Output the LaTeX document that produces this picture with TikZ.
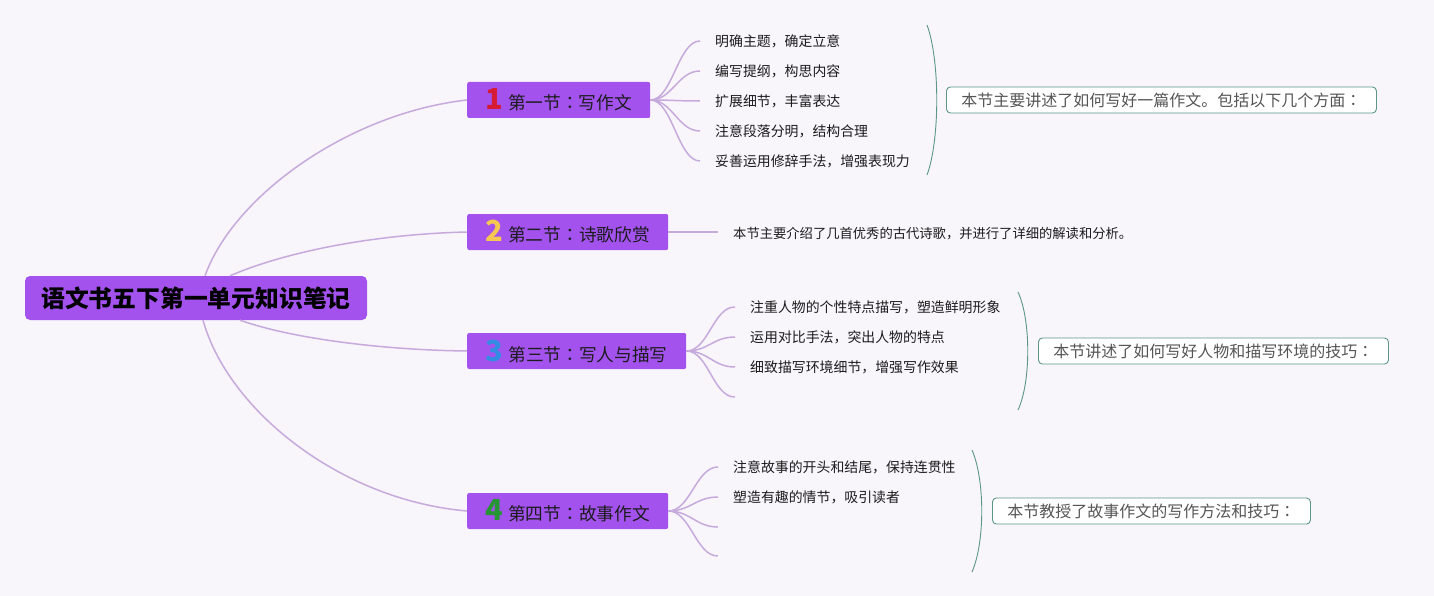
\documentclass[tikz,border=0pt]{standalone}
\usepackage{fontspec}
\setmainfont{Noto Sans CJK SC}
\newfontfamily\tcfont{Noto Sans CJK TC}
\newcommand{\ccolon}{{\tcfont ：}}
\definecolor{bgc}{RGB}{248,245,251}
\definecolor{nodepurple}{RGB}{163,82,238}
\definecolor{linkpurple}{RGB}{198,170,220}
\definecolor{tealline}{RGB}{92,150,136}
\definecolor{txtdark}{RGB}{28,28,28}
\definecolor{sumgray}{RGB}{85,85,85}
\definecolor{numred}{RGB}{214,28,52}
\definecolor{numyellow}{RGB}{246,200,82}
\definecolor{numblue}{RGB}{52,140,226}
\definecolor{numgreen}{RGB}{38,150,52}
\newcommand{\bnum}[2]{{\fontsize{29}{29}\selectfont\bfseries\color{#1}#2}}
\tikzset{
  rootbox/.style={fill=nodepurple, rounded corners=5pt, minimum width=342pt, minimum height=44pt, inner sep=0pt, font=\fontsize{23.8}{26}\selectfont\bfseries, text=black},
  branchbox/.style={fill=nodepurple, rounded corners=2pt, minimum height=36pt, inner sep=0pt, anchor=west, font=\fontsize{17.7}{20}\selectfont, text=txtdark},
  subtext/.style={anchor=west, inner xsep=15pt, inner ysep=0pt, font=\fontsize{13.9}{16}\selectfont, text=txtdark},
  subempty/.style={inner sep=0pt, minimum size=0pt},
  sumbox/.style={anchor=west, draw=tealline, fill=white, rounded corners=4pt, line width=0.9pt, minimum height=26pt, inner xsep=15pt, inner ysep=0pt, font=\fontsize{16}{18}\selectfont, text=sumgray},
  link/.style={draw=linkpurple, line width=1.5pt},
  bracket/.style={draw=tealline, line width=0.9pt},
}
\begin{document}
\begin{tikzpicture}[x=1pt,y=-1pt]
\useasboundingbox[fill=bgc] (0,0) rectangle (1434,596);

% root
\node[rootbox] (root) at (196,298) {语文书五下第一单元知识笔记};

% branches
\node[branchbox, minimum width=183pt] (b1) at (467,100) {\bnum{numred}{1}\hspace{5pt}第一节\ccolon 写作文};
\node[branchbox, minimum width=201pt] (b2) at (467,232) {\bnum{numyellow}{2}\hspace{5pt}第二节\ccolon 诗歌欣赏};
\node[branchbox, minimum width=219pt] (b3) at (467,351) {\bnum{numblue}{3}\hspace{5pt}第三节\ccolon 写人与描写};
\node[branchbox, minimum width=201pt] (b4) at (467,511) {\bnum{numgreen}{4}\hspace{5pt}第四节\ccolon 故事作文};

% root connectors
\draw[link] ([xshift=9pt]root.north) .. controls (234,195) and (350,113) .. (b1.west);
\draw[link] ([xshift=34pt]root.north) .. controls (290,250) and (380,234) .. (b2.west);
\draw[link] ([xshift=44pt]root.south) .. controls (290,338) and (380,350) .. (b3.west);
\draw[link] ([xshift=7pt]root.south) .. controls (228,410) and (340,500) .. (b4.west);

% section 1 subtopics
\node[subtext] (s11) at (700,41) {明确主题，确定立意};
\node[subtext] (s12) at (700,71) {编写提纲，构思内容};
\node[subtext] (s13) at (700,101) {扩展细节，丰富表达};
\node[subtext] (s14) at (700,131) {注意段落分明，结构合理};
\node[subtext] (s15) at (700,161) {妥善运用修辞手法，增强表现力};
\foreach \s in {s11,s12,s13,s14,s15}
  \draw[link] (b1.east) .. controls +(22,0) and +(-22,0) .. (\s.west);

% section 2
\node[subtext, font=\fontsize{13.3}{16}\selectfont] (s2) at (718,234) {本节主要介绍了几首优秀的古代诗歌，并进行了详细的解读和分析。};
\draw[link] (b2.east) -- (b2.east -| s2.west);

% section 3 subtopics
\node[subtext] (s31) at (735,307) {注重人物的个性特点描写，塑造鲜明形象};
\node[subtext] (s32) at (735,337) {运用对比手法，突出人物的特点};
\node[subtext] (s33) at (735,367) {细致描写环境细节，增强写作效果};
\node[subempty] (s34) at (735,397) {};
\draw[link] (b3.east) .. controls +(22,0) and +(-22,0) .. (s31.west);
\draw[link] (b3.east) .. controls +(22,0) and +(-22,0) .. (s32.west);
\draw[link] (b3.east) .. controls +(22,0) and +(-22,0) .. (s33.west);
\draw[link] (b3.east) .. controls +(22,0) and +(-22,0) .. (s34);

% section 4 subtopics
\node[subtext] (s41) at (718,467) {注意故事的开头和结尾，保持连贯性};
\node[subtext] (s42) at (718,497) {塑造有趣的情节，吸引读者};
\node[subempty] (s43) at (718,527) {};
\node[subempty] (s44) at (718,556) {};
\draw[link] (b4.east) .. controls +(22,0) and +(-22,0) .. (s41.west);
\draw[link] (b4.east) .. controls +(22,0) and +(-22,0) .. (s42.west);
\draw[link] (b4.east) .. controls +(22,0) and +(-22,0) .. (s43);
\draw[link] (b4.east) .. controls +(22,0) and +(-22,0) .. (s44);

% brackets
\coordinate (k1t) at (927,25);  \coordinate (k1b) at (927,175);
\coordinate (k3t) at (1018,292); \coordinate (k3b) at (1018,410);
\coordinate (k4t) at (972,450);  \coordinate (k4b) at (972,572);
\draw[bracket] (k1t) .. controls (940,60) and (940,140) .. (k1b);
\draw[bracket] (k3t) .. controls (1031,320) and (1031,382) .. (k3b);
\draw[bracket] (k4t) .. controls (985,480) and (985,542) .. (k4b);

% summaries
\node[sumbox] (m1) at (946,100) {本节主要讲述了如何写好一篇作文。包括以下几个方面\ccolon};
\node[sumbox] (m3) at (1038,351) {本节讲述了如何写好人物和描写环境的技巧\ccolon};
\node[sumbox] (m4) at (992,511) {本节教授了故事作文的写作方法和技巧\ccolon};
\end{tikzpicture}
\end{document}
